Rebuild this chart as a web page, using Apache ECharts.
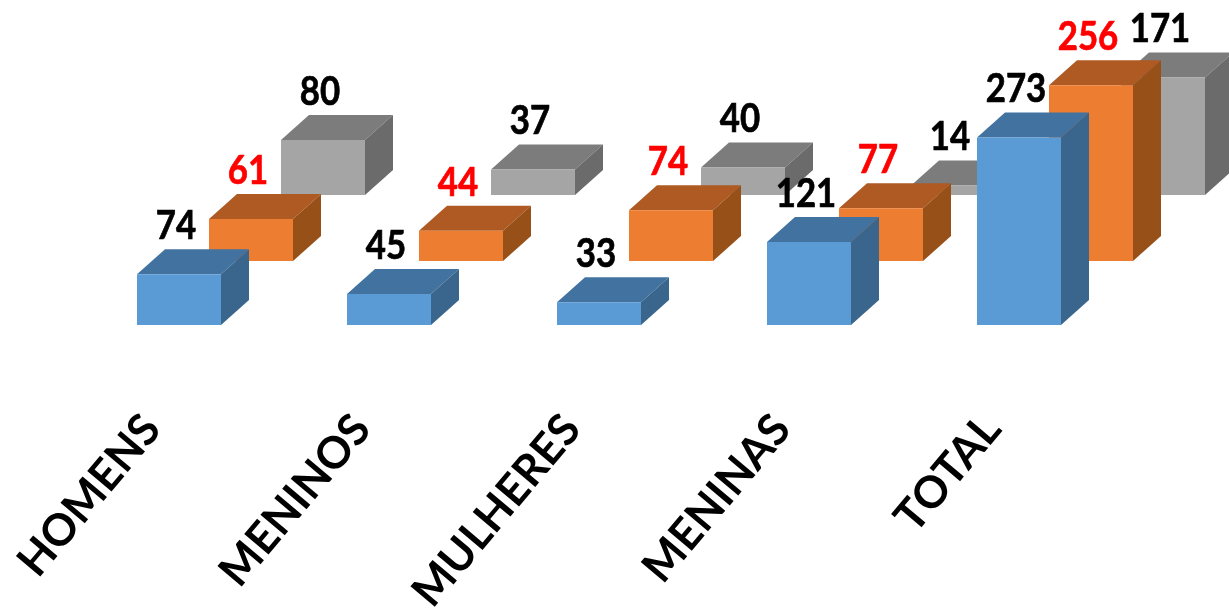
<!DOCTYPE html>
<html><head><meta charset="utf-8">
<style>html,body{margin:0;padding:0;background:#fff}#c{width:1229px;height:614px}</style>
<script src="https://cdn.jsdelivr.net/npm/echarts@6/dist/echarts.min.js"></script>
</head><body><div id="c"></div>
<script>
const categories = ['HOMENS','MENINOS','MULHERES','MENINAS','TOTAL'];
const blueValues = [74,45,33,121,273];
const orangeValues = [61,44,74,77,256];
const grayValues = [80,37,40,14,171];

const FRONT_W = 84, DEPTH_X = 28, DEPTH_Y = 25;
function boxSeries(name, data, offX, offY, colors, labelColor){
  return {
    type:'custom', name, data: data.map((v,i)=>[i,v]), clip:false,
    encode:{x:0,y:1},
    renderItem(params, api){
      const top = api.coord([api.value(0), api.value(1)]);
      const base = api.coord([api.value(0), 0]);
      const l = top[0]-FRONT_W/2+offX, r = l+FRONT_W;
      const t = top[1]+offY, b = base[1]+offY;
      const poly = (pts,fill)=>({type:'polygon',shape:{points:pts},style:{fill}});
      return {type:'group',children:[
        poly([[l,t],[r,t],[r+DEPTH_X,t-DEPTH_Y],[l+DEPTH_X,t-DEPTH_Y]],colors.top),
        poly([[r,t],[r+DEPTH_X,t-DEPTH_Y],[r+DEPTH_X,b-DEPTH_Y],[r,b]],colors.side),
        poly([[l,t],[r,t],[r,b],[l,b]],colors.front),
        {type:'text',z2:10,x:(l+r)/2-3,y:t-48,scaleX:0.87,scaleY:1,
          style:{text:String(api.value(1)),x:0,y:0,
          fill:labelColor,stroke:labelColor,lineWidth:0.7,font:'bold 40px Lato',align:'center',verticalAlign:'middle'}}
      ]};
    }
  };
}
const chart = echarts.init(document.getElementById('c'),null,{renderer:'canvas'});
chart.setOption({
  animation:false, backgroundColor:'#fff',
  grid:{left:74,top:119,width:1050,height:206,containLabel:false,outerBoundsMode:'none'},
  xAxis:{type:'category',data:categories,axisLine:{show:false},axisTick:{show:false},
    axisLabel:{interval:0,rotate:50,margin:64,padding:[0,42,0,0],fontFamily:'Lato',fontWeight:'bold',fontSize:44,color:'#000'}},
  yAxis:{type:'value',min:0,max:300,show:false,splitLine:{show:false}},
  series:[
    boxSeries('Cinza',grayValues,144,-130,{front:'#A5A5A5',top:'#7C7C7C',side:'#6B6B6B'},'#000'),
    boxSeries('Laranja',orangeValues,72,-64,{front:'#ED7D31',top:'#AE5A22',side:'#985019'},'#FF0000'),
    boxSeries('Azul',blueValues,0,0,{front:'#5B9BD5',top:'#4273A0',side:'#3A658C'},'#000')
  ]
});
</script></body></html>
